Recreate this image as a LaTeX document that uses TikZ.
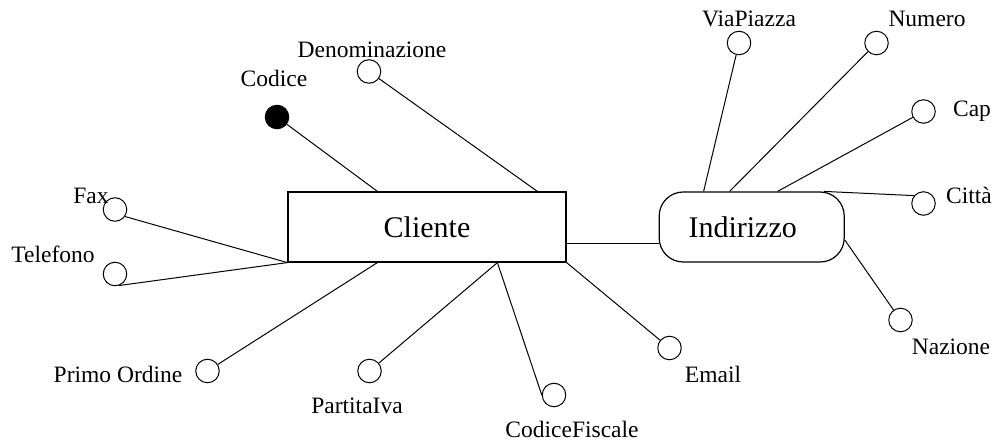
\documentclass[tikz,border=0pt]{standalone}
\usepackage{fontspec}
\setmainfont{Liberation Serif}
\usetikzlibrary{positioning}
\tikzset{
  entbox/.style   = {draw, line width=1.2pt, minimum width=278pt,
                     minimum height=70pt, inner sep=0pt,
                     font=\fontsize{30}{34}\selectfont},
  entround/.style = {entbox, rounded corners=24pt, minimum width=185pt},
  attcirc/.style  = {draw, circle, line width=1pt, minimum size=23.5pt,
                     inner sep=0pt},
  attkey/.style   = {attcirc, fill=black},
  attlbl/.style   = {anchor=base, inner sep=0pt,
                     font=\fontsize{23.5}{26}\selectfont},
  attline/.style  = {line width=1pt}
}
\begin{document}
\begin{tikzpicture}[x=1pt, y=-1pt]
  \useasboundingbox (0,0) rectangle (995,443);

  \node[entbox]                             (cliente)   at (427,227) {Cliente};
  \node[entround, right=92pt of cliente]    (indirizzo) {Indirizzo\hspace*{18pt}};

  \node[attkey]  (codiceC) at (277,117)   {};
  \node[attcirc] (denomC)  at (369,71.5)  {};
  \node[attcirc] (faxC)    at (115,209.5) {};
  \node[attcirc] (telC)    at (115,274)   {};
  \node[attcirc] (primoC)  at (207.5,371) {};
  \node[attcirc] (pivaC)   at (369.5,371) {};
  \node[attcirc] (cfC)     at (554,395)   {};
  \node[attcirc] (emailC)  at (669.5,348) {};
  \node[attcirc] (viaC)    at (739,43)    {};
  \node[attcirc] (numC)    at (876.5,43)  {};
  \node[attcirc] (capC)    at (923.5,111.5) {};
  \node[attcirc] (cittaC)  at (923.5,203.5) {};
  \node[attcirc] (nazC)    at (900.5,320) {};

  \node[attlbl] (codiceL) at (274,87)  {Codice};
  \node[attlbl] (denomL)  at (372,58)  {Denominazione};
  \node[attlbl] (faxL)    at (91,204)  {Fax};
  \node[attlbl] (telL)    at (53,263)  {Telefono};
  \node[attlbl] (primoL)  at (118,382) {Primo Ordine};
  \node[attlbl] (pivaL)   at (357,413) {PartitaIva};
  \node[attlbl] (cfL)     at (572,437) {CodiceFiscale};
  \node[attlbl] (emailL)  at (713,382) {Email};
  \node[attlbl] (viaL)    at (749,27)  {ViaPiazza};
  \node[attlbl] (numL)    at (927,27)  {Numero};
  \node[attlbl] (capL)    at (972,117) {Cap};
  \node[attlbl] (cittaL)  at (969,204) {Città};
  \node[attlbl] (nazL)    at (951,354) {Nazione};

  \draw[attline] ([yshift=-17pt]cliente.east) -- ([yshift=-17pt]indirizzo.west);

  \draw[attline] (codiceC) -- ([xshift=90pt]cliente.north west);
  \draw[attline] (denomC)  -- ([xshift=250pt]cliente.north west);
  \draw[attline] (faxC.-35) -- (cliente.south west);
  \draw[attline] (telC.-70) -- (cliente.south west);
  \draw[attline] (primoC)  -- ([xshift=90pt]cliente.south west);
  \draw[attline] (pivaC)   -- ([xshift=210pt]cliente.south west);
  \draw[attline] (cfC.west) -- ([xshift=210pt]cliente.south west);
  \draw[attline] (emailC)  -- (cliente.south east);

  \draw[attline] (viaC)    -- ([xshift=45pt]indirizzo.north west);
  \draw[attline] (numC)    -- ([xshift=71pt]indirizzo.north west);
  \draw[attline] (capC)    -- ([xshift=119pt]indirizzo.north west);
  \draw[attline] (cittaC.140) -- ([xshift=-21pt]indirizzo.north east);
  \draw[attline] (nazC)    -- ([yshift=-13pt]indirizzo.east);
\end{tikzpicture}
\end{document}
